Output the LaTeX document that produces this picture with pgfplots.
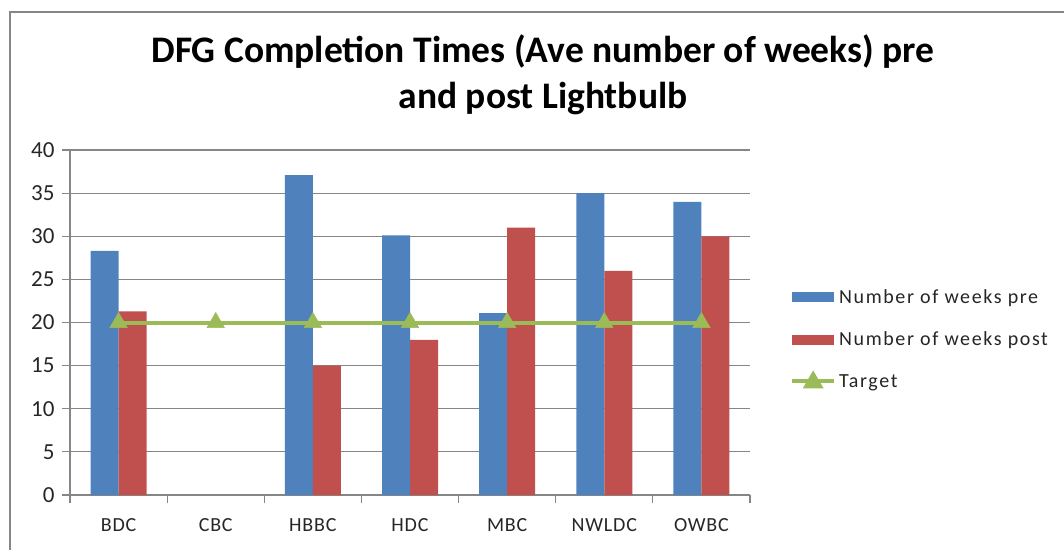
\documentclass[border=0pt]{standalone}
\usepackage{pgfplots}
\pgfplotsset{compat=1.18}
\usepackage{fontspec}
\setmainfont{Carlito}
\definecolor{cblue}{HTML}{4F81BD}
\definecolor{cred}{HTML}{C0504D}
\definecolor{cgreen}{HTML}{9BBB59}
\definecolor{cgrid}{HTML}{868686}
\begin{document}
\begin{tikzpicture}[x=1pt,y=1pt]
\path[use as bounding box] (0,0) rectangle (1064,549);
\draw[cgrid, line width=1.5pt] (10,-10) -- (10,537) -- (1080,537);
\node[font=\fontsize{37.5}{46}\selectfont\bfseries, align=center] at (543,474) {DFG Completion Times (Ave number of weeks) pre\\and post Lightbulb};
\begin{axis}[
  at={(70pt,54pt)}, anchor=south west,
  scale only axis, width=680pt, height=345pt,
  xmin=-0.5, xmax=6.5, ymin=0, ymax=40,
  ybar=0pt, bar width=28pt,
  xtick={0,...,6}, xticklabels={BDC,CBC,HBBC,HDC,MBC,NWLDC,OWBC},
  minor xtick={-0.5,0.5,...,6.5},
  major x tick style={draw=none},
  ytick={0,5,...,40},
  ymajorgrids, grid style={cgrid, line width=1.2pt},
  axis x line*=bottom, axis y line*=left,
  axis line style={cgrid, line width=1.2pt},
  tick style={cgrid, line width=1.2pt},
  tick align=outside,
  major tick length=8pt, minor tick length=8pt,
  xticklabel style={font=\fontsize{20}{24}\selectfont\addfontfeature{LetterSpace=4}, yshift=-12pt, text=black!85},
  yticklabel style={font=\fontsize{23}{26}\selectfont, xshift=-4pt, text=black!85},
  /pgf/number format/assume math mode=true,
  legend cell align=left,
  legend style={draw=none, at={(1.0588,0.605)}, anchor=north west, inner sep=0pt,
    font=\fontsize{20}{24}\selectfont\addfontfeature{LetterSpace=8}, row sep=21pt,
    nodes={inner sep=3pt, text=black!85}},
]
\addplot[fill=cblue, draw=none, area legend,
  legend image code/.code={\fill[cblue] (0pt,-5pt) rectangle (42pt,5pt);}]
  coordinates {(0,28.3)(2,37.1)(3,30.1)(4,21.1)(5,35)(6,34)};
\addlegendentry{Number of weeks pre}
\addplot[fill=cred, draw=none, area legend,
  legend image code/.code={\fill[cred] (0pt,-5pt) rectangle (42pt,5pt);}]
  coordinates {(0,21.3)(2,15)(3,18)(4,31)(5,26)(6,30)};
\addlegendentry{Number of weeks post}
\addplot[sharp plot, cgreen, line width=4pt, mark=triangle*, mark size=10pt,
  mark options={line width=0.5pt, fill=cgreen},
  legend image code/.code={\draw[cgreen, line width=4pt] (0pt,0pt) -- (42pt,0pt);
    \fill[cgreen] (21pt,7pt) -- (28pt,-5pt) -- (14pt,-5pt) -- cycle;}]
  coordinates {(0,20)(1,20)(2,20)(3,20)(4,20)(5,20)(6,20)};
\addlegendentry{Target}
\end{axis}
\end{tikzpicture}
\end{document}
